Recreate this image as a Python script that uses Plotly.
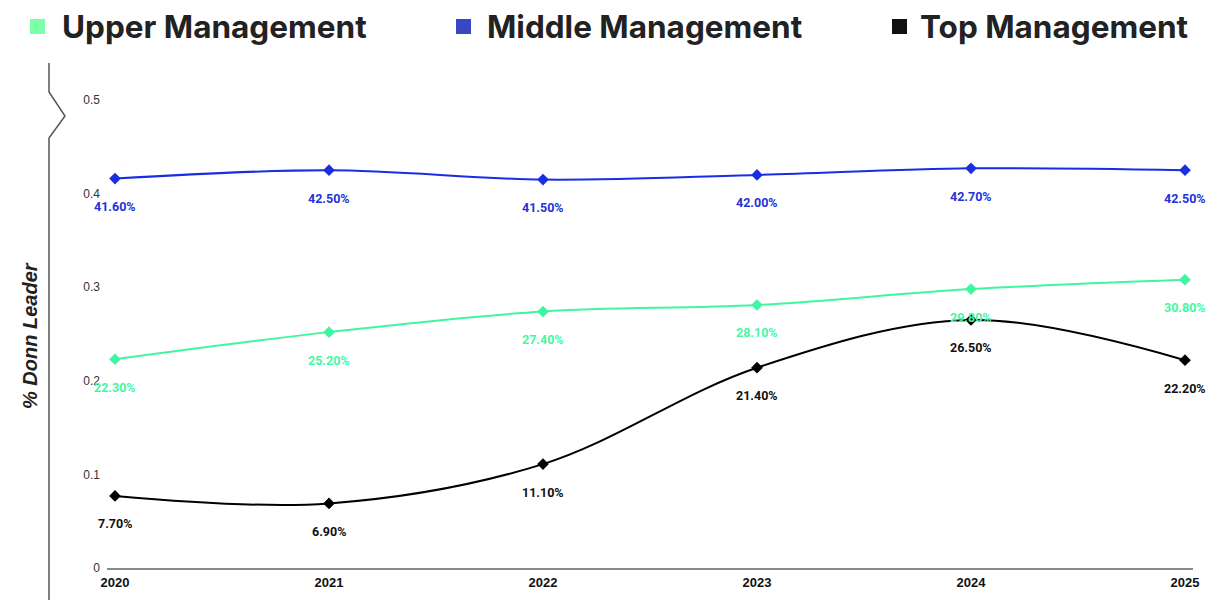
import plotly.graph_objects as go

years = [2020, 2021, 2022, 2023, 2024, 2025]
upper = [0.223, 0.252, 0.274, 0.281, 0.298, 0.308]
middle = [0.416, 0.425, 0.415, 0.420, 0.427, 0.425]
top = [0.077, 0.069, 0.111, 0.214, 0.265, 0.222]
series_names = ["Upper Management", "Middle Management", "Top Management"]
line_colors = ["#3ff5a2", "#1a2de0", "#000000"]
label_colors = ["#45f7a5", "#2233d8", "#111111"]
legend_colors = ["#7dffa8", "#3a47c2", "#111111"]
ytick_vals = [0, 0.1, 0.2, 0.3, 0.4, 0.5]
ytick_text = ["0", "0.1", "0.2", "0.3", "0.4", "0.5"]

W, H = 1214, 600
# screen-space plot bounds
SL, SR, ST, SB = 107, 1193, 63, 568
L, T, R, B = SL, ST, W - SR, H - SB
pw, ph = W - L - R, H - T - B
y_top = (SB - ST) / 936.0

def px(x):
    return (x - SL) / pw

def py(y):
    return (SB - y) / ph

fig = go.Figure()
all_series = [upper, middle, top]
for name, vals, col in zip(series_names, all_series, line_colors):
    fig.add_trace(go.Scatter(
        x=years, y=vals, name=name, mode="lines+markers",
        line=dict(color=col, width=2, shape="spline", smoothing=1),
        marker=dict(symbol="diamond", size=9, color=col),
        showlegend=False, cliponaxis=False, hoverinfo="skip",
    ))

annotations = []
for vals, col in zip(all_series, label_colors):
    for x, v in zip(years, vals):
        annotations.append(dict(
            x=x, y=v, xref="x", yref="y", text=f"{v*100:.2f}%",
            showarrow=False, yshift=-28,
            font=dict(family="Roboto, Arial", size=12.5, color=col, weight="bold"),
        ))

# legend
leg_sq_x = [30, 456, 892]
leg_txt_x = [60, 485, 918]
shapes = []
for sx, tx, name, col in zip(leg_sq_x, leg_txt_x, series_names, legend_colors):
    shapes.append(dict(type="rect", xref="paper", yref="paper",
                       x0=px(sx), x1=px(sx + 15), y0=py(34), y1=py(19),
                       fillcolor=col, line=dict(width=0)))
    annotations.append(dict(x=px(tx), y=py(27), xref="paper", yref="paper",
                            xanchor="left", yanchor="middle", showarrow=False,
                            text=name,
                            font=dict(family="Inter", size=31.5, color="#222222", weight="bold")))

# y axis title
annotations.append(dict(x=px(30), y=py(336), xref="paper", yref="paper",
                        xanchor="center", yanchor="middle",
                        text="<b><i>% Donn Leader</i></b>", textangle=-90, showarrow=False,
                        font=dict(family="Liberation Sans, Arial", size=20, color="#222222")))

# broken y axis line
path = (f"M {px(49)},{py(63)} L {px(49)},{py(92)} L {px(65)},{py(116)} "
        f"L {px(49)},{py(138)} L {px(49)},{py(600)}")
shapes.append(dict(type="path", xref="paper", yref="paper", path=path,
                   line=dict(color="#555555", width=1.5)))

fig.update_layout(
    width=W, height=H, margin=dict(l=L, r=R, t=T, b=B),
    paper_bgcolor="white", plot_bgcolor="white", hovermode=False,
    annotations=annotations, shapes=shapes,
    xaxis=dict(range=[2020 - 8 / 214, 2025 + 8 / 214], tickvals=years,
               ticktext=[str(y) for y in years], showgrid=False, zeroline=False,
               showline=True, linecolor="#8a8a8a", linewidth=1.5,
               tickfont=dict(family="Liberation Sans, Arial", size=13, color="#111111", weight="bold"),
               ticks="", ticklabelstandoff=2, automargin=False),
    yaxis=dict(range=[0, y_top], tickvals=ytick_vals, ticktext=ytick_text,
               showgrid=False, zeroline=False, showline=False,
               tickfont=dict(family="Liberation Sans, Arial", size=12, color="#333333"),
               ticks="", ticklabelstandoff=6, automargin=False),
)

fig.write_html(
    "out.html",
    config={"displayModeBar": False, "staticPlot": True},
    post_script="document.body.style.margin='0';document.body.style.overflow='hidden';",
)
